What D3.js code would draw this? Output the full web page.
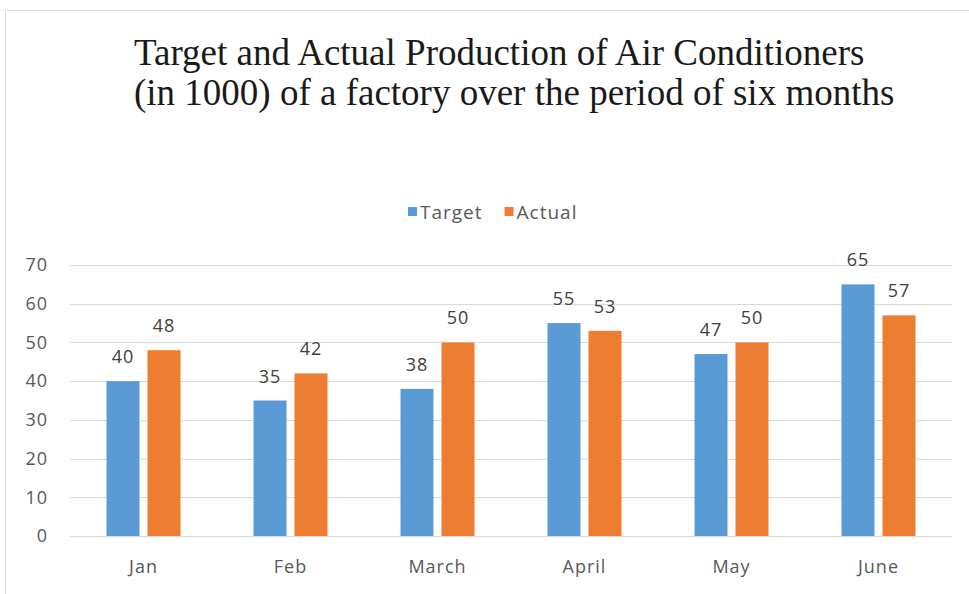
<!DOCTYPE html>
<html>
<head>
<meta charset="utf-8">
<script src="https://cdn.jsdelivr.net/npm/d3@7"></script>
<style>
  body { margin: 0; background: #fff; }
  svg { display: block; }
  .tick-label { font-family: "Open Sans", sans-serif; font-size: 18px; letter-spacing: 1px; fill: #595959; }
  .value-label { font-family: "Open Sans", sans-serif; font-size: 18px; letter-spacing: 1px; fill: #404040; }
  .legend-label { font-family: "Open Sans", sans-serif; font-size: 19px; letter-spacing: 1px; fill: #595959; }
  .title { font-family: "Liberation Serif", "Times New Roman", serif; font-size: 37px; fill: #1a1a1a; }
</style>
</head>
<body>
<div id="chart"></div>
<script>
// data
var months = ["Jan", "Feb", "March", "April", "May", "June"];
var seriesNames = ["Target", "Actual"];
var targetValues = [40, 35, 38, 55, 47, 65];
var actualValues = [48, 42, 50, 53, 50, 57];
var yTicks = [0, 10, 20, 30, 40, 50, 60, 70];
var titleLines = [
	"Target and Actual Production of Air Conditioners",
	"(in 1000) of a factory over the period of six months"
];

var colors = {Target: "#5B9BD5", Actual: "#ED7D31"};

var width = 969, height = 594;
var plot = {left: 70, right: 952, top: 265, bottom: 536};

var svg = d3.select("#chart").append("svg")
	.attr("width", width)
	.attr("height", height);

// frame of the chart object
svg.append("line")
	.attr("x1", 5).attr("y1", 10.5).attr("x2", width).attr("y2", 10.5)
	.style("stroke", "#d9d9d9");
svg.append("line")
	.attr("x1", 5.5).attr("y1", 10).attr("x2", 5.5).attr("y2", height)
	.style("stroke", "#d9d9d9");

// title
svg.append("text")
	.attr("class", "title")
	.selectAll("tspan")
	.data(titleLines)
	.enter().append("tspan")
	.attr("x", 134)
	.attr("y", function(d, i) { return 65 + i * 40; })
	.text(function(d) { return d; });

var y = d3.scaleLinear()
	.domain([0, 70])
	.range([plot.bottom, plot.top]);

var x0 = d3.scaleBand()
	.domain(months)
	.range([plot.left, plot.right])
	.padding(0);

var groupWidth = 74;
var x1 = d3.scaleBand()
	.domain(seriesNames)
	.range([(x0.bandwidth() - groupWidth) / 2, (x0.bandwidth() + groupWidth) / 2])
	.paddingInner(0.195);

// gridlines
svg.append("g")
	.selectAll("line")
	.data(yTicks)
	.enter().append("line")
	.attr("x1", plot.left)
	.attr("x2", plot.right)
	.attr("y1", function(d) { return Math.round(y(d)) + 0.5; })
	.attr("y2", function(d) { return Math.round(y(d)) + 0.5; })
	.style("stroke", "#d9d9d9")
	.style("stroke-width", 1);

// y tick labels
svg.append("g")
	.selectAll("text")
	.data(yTicks)
	.enter().append("text")
	.attr("class", "tick-label")
	.attr("x", 48)
	.attr("y", function(d) { return y(d); })
	.attr("dy", "0.35em")
	.attr("text-anchor", "end")
	.text(function(d) { return d; });

// x labels
svg.append("g")
	.selectAll("text")
	.data(months)
	.enter().append("text")
	.attr("class", "tick-label")
	.attr("x", function(d) { return x0(d) + x0.bandwidth() / 2; })
	.attr("y", 573)
	.attr("text-anchor", "middle")
	.text(function(d) { return d; });

// bars
var rows = months.map(function(m, i) {
	return {month: m, values: [
		{name: "Target", value: targetValues[i]},
		{name: "Actual", value: actualValues[i]}
	]};
});

var groups = svg.append("g")
	.selectAll("g")
	.data(rows)
	.enter().append("g")
	.attr("transform", function(d) { return "translate(" + x0(d.month) + ",0)"; });

groups.selectAll("rect")
	.data(function(d) { return d.values; })
	.enter().append("rect")
	.attr("x", function(d) { return x1(d.name); })
	.attr("width", x1.bandwidth())
	.attr("y", function(d) { return y(d.value); })
	.attr("height", function(d) { return y(0) - y(d.value); })
	.style("fill", function(d) { return colors[d.name]; });

groups.selectAll("text")
	.data(function(d) { return d.values; })
	.enter().append("text")
	.attr("class", "value-label")
	.attr("x", function(d) { return x1(d.name) + x1.bandwidth() / 2; })
	.attr("y", function(d) { return y(d.value) - 18; })
	.attr("text-anchor", "middle")
	.text(function(d) { return d.value; });

// legend
var legend = svg.append("g").attr("transform", "translate(0,212)");
var lx = 408;
seriesNames.forEach(function(name) {
	legend.append("rect")
		.attr("x", lx)
		.attr("y", -5)
		.attr("width", 9)
		.attr("height", 9)
		.style("fill", colors[name]);
	var t = legend.append("text")
		.attr("class", "legend-label")
		.attr("x", lx + 12)
		.attr("y", 0)
		.attr("dy", "0.35em")
		.text(name);
	lx += 12 + t.node().getComputedTextLength() + 22;
});
</script>
</body>
</html>
